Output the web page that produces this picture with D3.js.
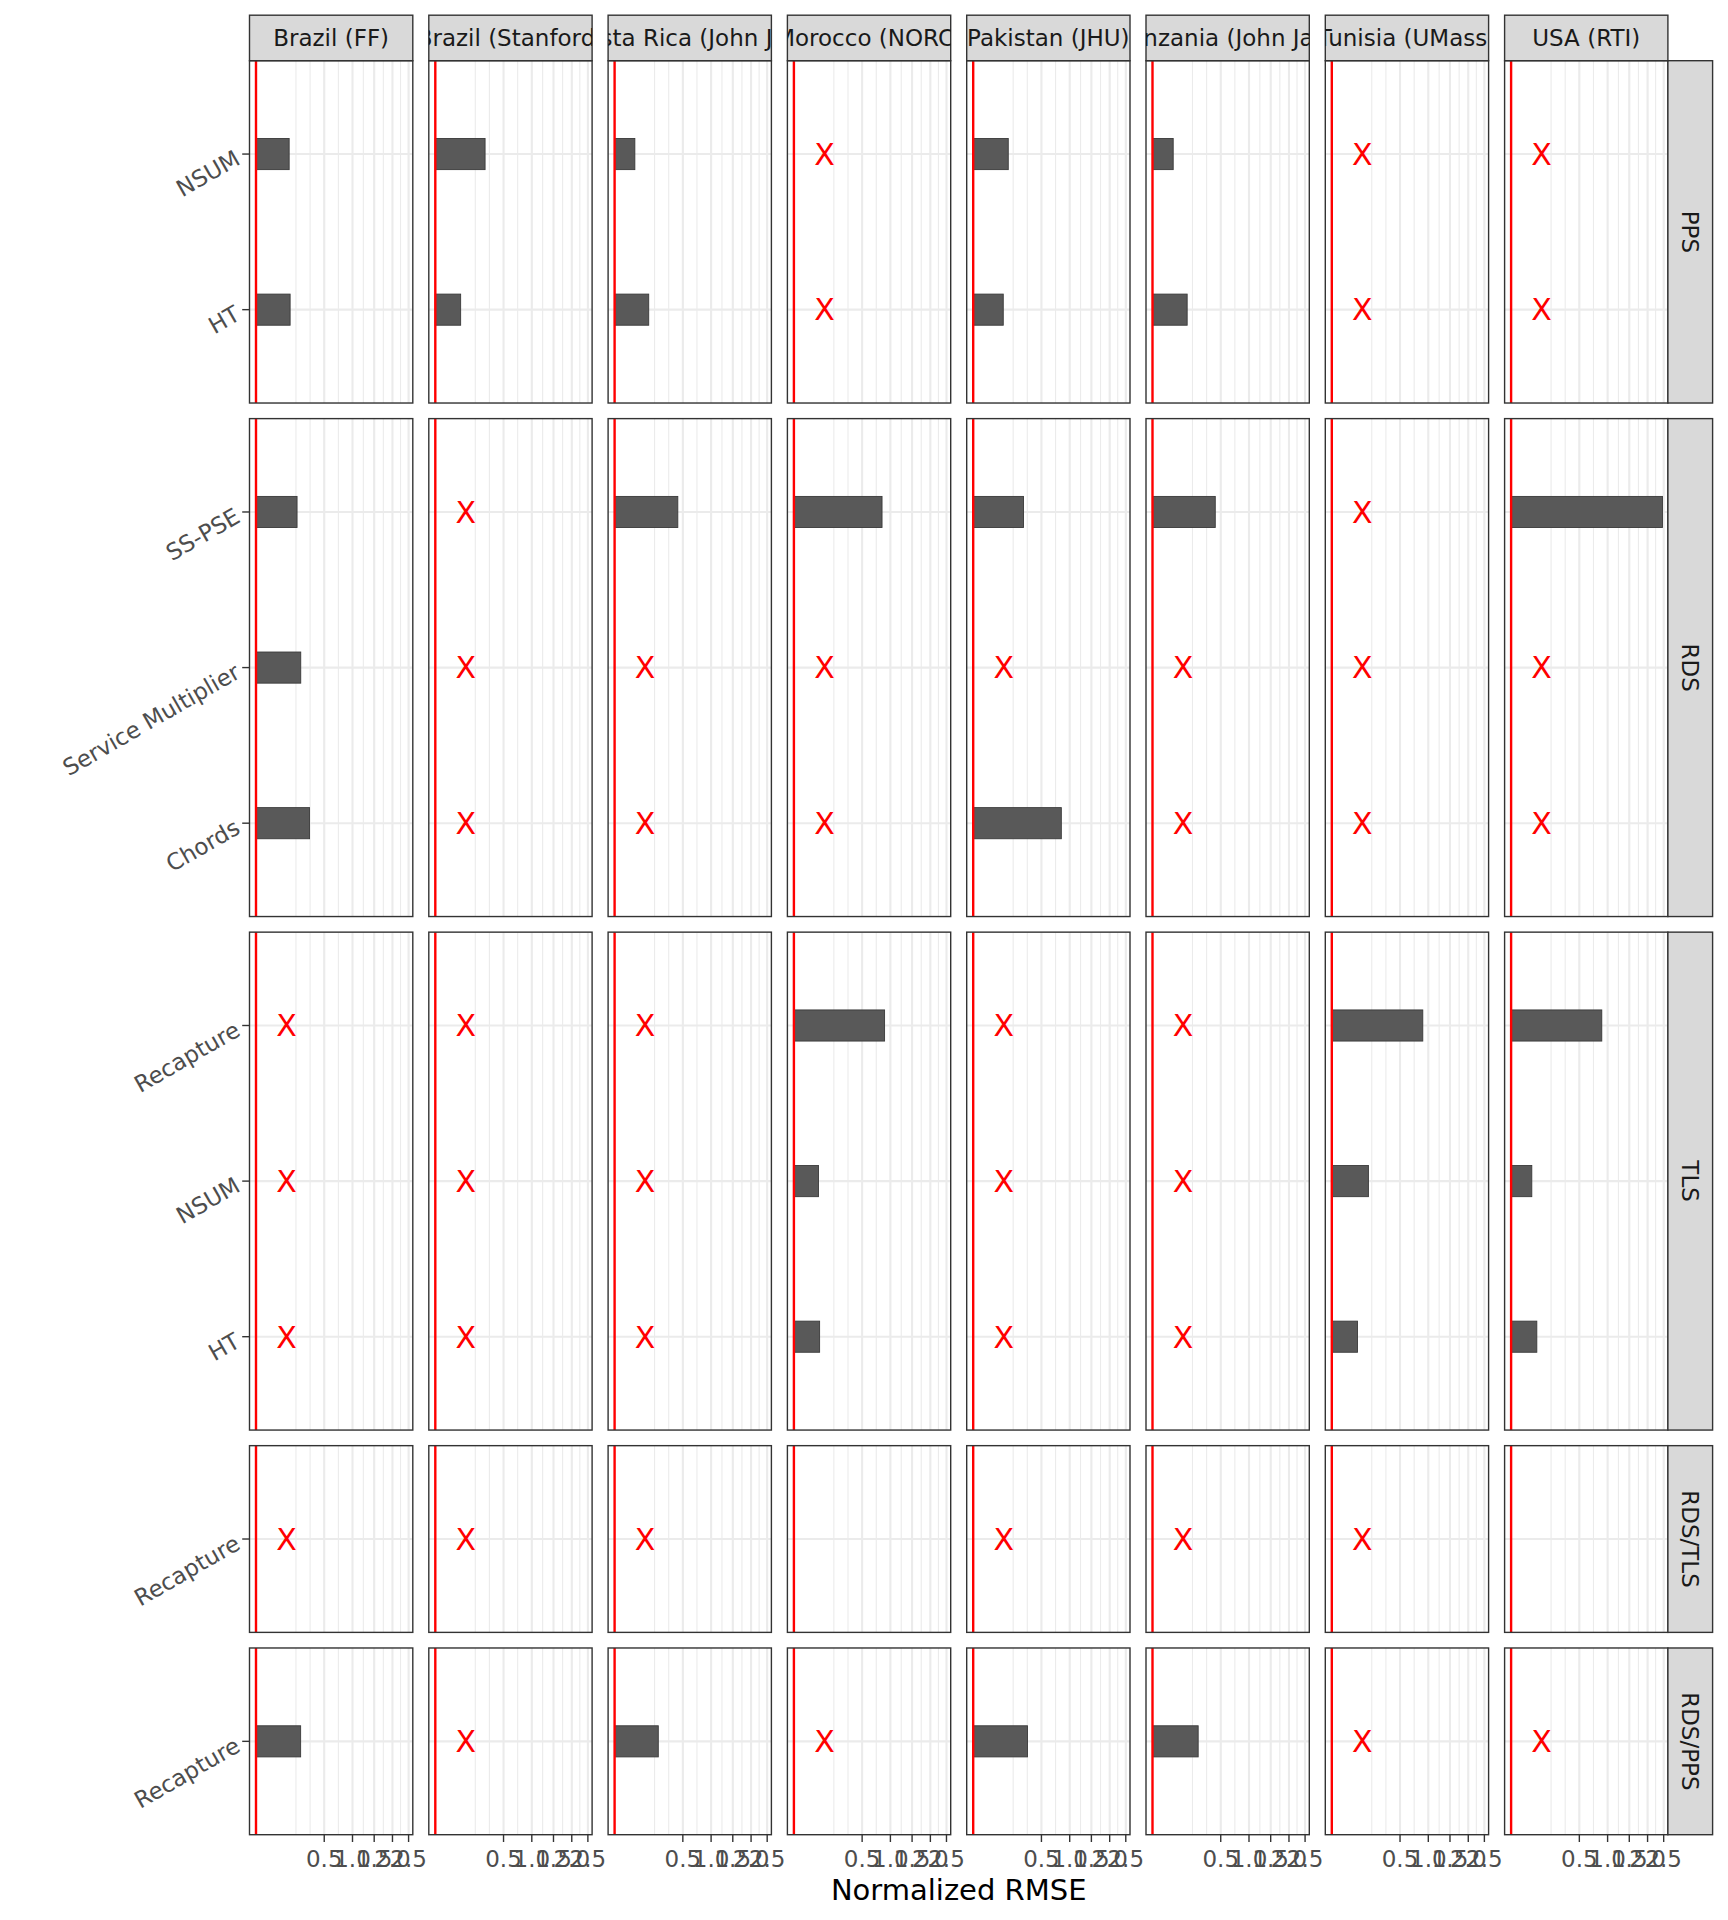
<!DOCTYPE html>
<html>
<head>
<meta charset="utf-8">
<script src="https://cdn.jsdelivr.net/npm/d3@7"></script>
<style>
  html, body { margin: 0; padding: 0; background: #ffffff; }
  svg { display: block; }
  text { font-family: "DejaVu Sans", sans-serif; }
</style>
</head>
<body>
<svg id="chart" width="1728" height="1920"></svg>
<script>
// ---------------- DATA ----------------
const sites = ["Brazil (FF)", "Brazil (Stanford)", "Costa Rica (John Jay)", "Morocco (NORC)",
               "Pakistan (JHU)", "Tanzania (John Jay)", "Tunisia (UMass)", "USA (RTI)"];
const designs = ["PPS", "RDS", "TLS", "RDS/TLS", "RDS/PPS"];

// methods of each design, listed top to bottom
const ppsMethods    = ["NSUM", "HT"];
const rdsMethods    = ["SS-PSE", "Service Multiplier", "Chords"];
const tlsMethods    = ["Recapture", "NSUM", "HT"];
const rdsTlsMethods = ["Recapture"];
const rdsPpsMethods = ["Recapture"];

// Normalized RMSE per site (order of `sites`); null = not estimable (drawn as a red X)
const ppsNSUM        = [0.118, 0.266, 0.044, null, 0.132, 0.046, null, null];
const ppsHT          = [0.125, 0.069, 0.125, null, 0.097, 0.129, null, null];
const rdsSSPSE       = [0.181, null, 0.429, 0.834, 0.272, 0.423, null, 2.46];
const rdsServiceMult = [0.215, null, null, null, null, null, null, null];
const rdsChords      = [0.308, null, null, null, 0.834, null, null, null];
const tlsRecapture   = [null, null, null, 0.883, null, null, 0.889, 0.883];
const tlsNSUM        = [null, null, null, 0.065, null, null, 0.144, 0.046];
const tlsHT          = [null, null, null, 0.071, null, null, 0.071, 0.071];
const rdsTlsRecapture = [null, null, null, null, null, null, null, null];
const rdsPpsRecapture = [0.214, null, 0.205, null, 0.317, 0.224, null, null];

// panels with no entry at all (no bar, no X)
const emptyPanels = [["RDS/TLS", "Morocco (NORC)"], ["RDS/TLS", "USA (RTI)"]];

const xTicks = [0.5, 1.0, 1.5, 2.0, 2.5];
const xTickLabels = ["0.5", "1.0", "1.5", "2.0", "2.5"];
const xDomain = [0, 2.5];
const referenceValue = 0;      // red vertical line
const missingMarkerValue = 0.1; // where the X is placed
const xTitle = "Normalized RMSE";

// ---------------- ASSEMBLY ----------------
const designMethods = [ppsMethods, rdsMethods, tlsMethods, rdsTlsMethods, rdsPpsMethods];
const designValues = [
  [ppsNSUM, ppsHT],
  [rdsSSPSE, rdsServiceMult, rdsChords],
  [tlsRecapture, tlsNSUM, tlsHT],
  [rdsTlsRecapture],
  [rdsPpsRecapture]
];

// ---------------- LAYOUT ----------------
const svg = d3.select("#chart");
const panelLeft0 = 249.5, panelW = 163.3, colStep = 179.3;
const panelTop0 = 60.7, rowGap = 15.6, unitH = 155.6;
const zeroOffset = 6.5, pxPerSqrt = 96.5;
const stripH = 45.5, stripW = 44.7;

const rowTops = [];
const rowHs = [];
let yCur = panelTop0;
designMethods.forEach(m => {
  const h = (m.length - 1 + 1.2) * unitH;
  rowTops.push(yCur); rowHs.push(h);
  yCur += h + rowGap;
});
const panelsBottom = rowTops[rowTops.length - 1] + rowHs[rowHs.length - 1];

function xScaleFor(c) {
  const l = panelLeft0 + c * colStep;
  return d3.scaleSqrt().domain(xDomain)
    .range([l + zeroOffset, l + zeroOffset + pxPerSqrt * Math.sqrt(xDomain[1])]);
}
function yScaleFor(r) {
  return d3.scalePoint().domain(designMethods[r])
    .range([rowTops[r], rowTops[r] + rowHs[r]]).padding(0.6);
}

// minor breaks (ggplot style, midpoints in transformed space)
const sq = xTicks.map(Math.sqrt);
const bd = sq[1] - sq[0];
const ext = [sq[0] - bd, ...sq, sq[sq.length - 1] + bd];
const minorSq = [];
for (let i = 0; i < ext.length - 1; i++) { minorSq.push(ext[i]); minorSq.push((ext[i] + ext[i + 1]) / 2); }
minorSq.push(ext[ext.length - 1]);
const sqMaxVisible = (panelW - zeroOffset) / pxPerSqrt;
const minorVals = minorSq.filter(s => s > 0 && s <= sqMaxVisible).map(s => s * s);

const defs = svg.append("defs");

// ---------------- PANELS ----------------
designs.forEach((design, r) => {
  const y = yScaleFor(r);
  const top = rowTops[r], h = rowHs[r];
  const barH = y.step() * 0.2;
  sites.forEach((site, c) => {
    const x = xScaleFor(c);
    const l = panelLeft0 + c * colStep;
    const g = svg.append("g");
    g.append("rect").attr("x", l).attr("y", top).attr("width", panelW).attr("height", h).attr("fill", "#ffffff");
    // minor grid
    g.selectAll(".minor").data(minorVals).enter().append("line")
      .attr("x1", d => x(d)).attr("x2", d => x(d)).attr("y1", top).attr("y2", top + h)
      .attr("stroke", "#EBEBEB").attr("stroke-width", 1.1);
    // major grid vertical
    g.selectAll(".major").data(xTicks).enter().append("line")
      .attr("x1", d => x(d)).attr("x2", d => x(d)).attr("y1", top).attr("y2", top + h)
      .attr("stroke", "#EBEBEB").attr("stroke-width", 2.1);
    // major grid horizontal
    g.selectAll(".hmajor").data(designMethods[r]).enter().append("line")
      .attr("x1", l).attr("x2", l + panelW).attr("y1", d => y(d)).attr("y2", d => y(d))
      .attr("stroke", "#EBEBEB").attr("stroke-width", 2.1);

    const isEmpty = emptyPanels.some(p => p[0] === design && p[1] === site);
    if (!isEmpty) {
      const rows = designMethods[r].map((m, i) => ({ m, v: designValues[r][i][c] }));
      g.selectAll(".bar").data(rows.filter(d => d.v !== null)).enter().append("rect")
        .attr("x", x(0)).attr("y", d => y(d.m) - barH / 2)
        .attr("width", d => x(d.v) - x(0)).attr("height", barH)
        .attr("fill", "#595959").attr("stroke", "#3a3a3a").attr("stroke-width", 0.9);
      g.selectAll(".miss").data(rows.filter(d => d.v === null)).enter().append("text")
        .attr("x", x(missingMarkerValue)).attr("y", d => y(d.m))
        .attr("dy", "0.36em").attr("text-anchor", "middle")
        .attr("font-size", 30).attr("fill", "#FF0000").text("X");
    }
    // reference line
    g.append("line").attr("x1", x(referenceValue)).attr("x2", x(referenceValue))
      .attr("y1", top).attr("y2", top + h).attr("stroke", "#FF0000").attr("stroke-width", 2.4);
    // border
    g.append("rect").attr("x", l).attr("y", top).attr("width", panelW).attr("height", h)
      .attr("fill", "none").attr("stroke", "#333333").attr("stroke-width", 1.4);
  });

  // right strip
  const sx = panelLeft0 + 7 * colStep + panelW;
  svg.append("rect").attr("x", sx).attr("y", top).attr("width", stripW).attr("height", h)
    .attr("fill", "#D9D9D9").attr("stroke", "#333333").attr("stroke-width", 1.4);
  svg.append("text")
    .attr("transform", `translate(${sx + stripW / 2},${top + h / 2}) rotate(90)`)
    .attr("text-anchor", "middle").attr("dy", "0.36em")
    .attr("font-size", 23).attr("fill", "#1A1A1A").text(design);

  // y axis (first column)
  const yAxisX = panelLeft0;
  svg.selectAll(null).data(designMethods[r]).enter().append("line")
    .attr("x1", yAxisX - 7.3).attr("x2", yAxisX).attr("y1", d => y(d)).attr("y2", d => y(d))
    .attr("stroke", "#333333").attr("stroke-width", 1.4);
  svg.selectAll(null).data(designMethods[r]).enter().append("text")
    .attr("transform", d => `translate(${yAxisX - 12},${y(d) + 2}) rotate(-30)`)
    .attr("text-anchor", "end").attr("dy", "0.36em")
    .attr("font-size", 23).attr("fill", "#4D4D4D").text(d => d);
});

// ---------------- TOP STRIPS ----------------
sites.forEach((site, c) => {
  const l = panelLeft0 + c * colStep;
  const st = panelTop0 - stripH;
  const id = "clipStrip" + c;
  defs.append("clipPath").attr("id", id).append("rect")
    .attr("x", l).attr("y", st).attr("width", panelW).attr("height", stripH);
  svg.append("rect").attr("x", l).attr("y", st).attr("width", panelW).attr("height", stripH)
    .attr("fill", "#D9D9D9").attr("stroke", "#333333").attr("stroke-width", 1.4);
  svg.append("text").attr("clip-path", `url(#${id})`)
    .attr("x", l + panelW / 2).attr("y", st + stripH / 2).attr("dy", "0.36em")
    .attr("text-anchor", "middle").attr("font-size", 23).attr("fill", "#1A1A1A").text(site);
});

// ---------------- X AXES ----------------
sites.forEach((site, c) => {
  const x = xScaleFor(c);
  const g = svg.append("g");
  g.selectAll("line").data(xTicks).enter().append("line")
    .attr("x1", d => x(d)).attr("x2", d => x(d))
    .attr("y1", panelsBottom).attr("y2", panelsBottom + 7.3)
    .attr("stroke", "#333333").attr("stroke-width", 1.4);
  g.selectAll("text").data(xTicks).enter().append("text")
    .attr("x", d => x(d)).attr("y", panelsBottom + 32)
    .attr("text-anchor", "middle").attr("font-size", 23).attr("fill", "#4D4D4D")
    .text((d, i) => xTickLabels[i]);
});

svg.append("text")
  .attr("x", panelLeft0 + (7 * colStep + panelW) / 2).attr("y", 1900)
  .attr("text-anchor", "middle").attr("font-size", 29).attr("fill", "#000000").text(xTitle);
</script>
</body>
</html>
